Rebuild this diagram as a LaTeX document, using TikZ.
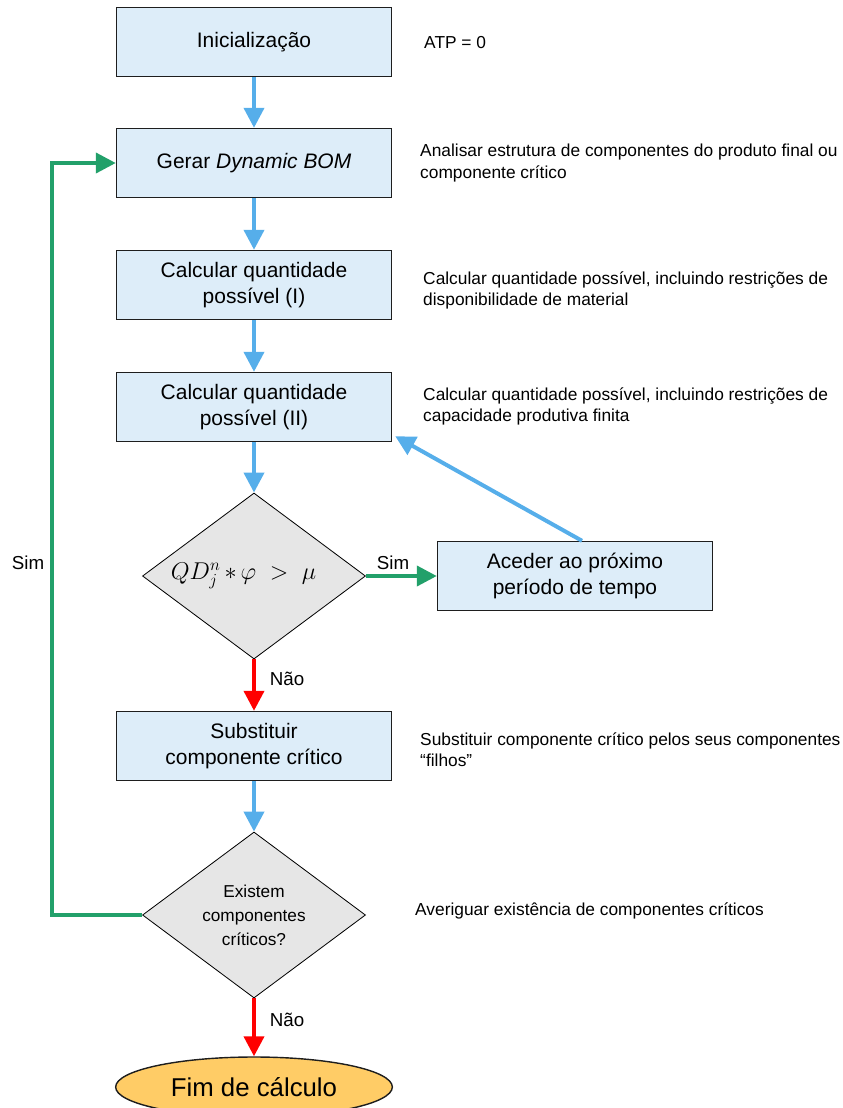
\documentclass[tikz,border=0pt]{standalone}
\usepackage{fontspec}
\setmainfont{Liberation Sans}
\usetikzlibrary{shapes.geometric, arrows.meta, calc}
\definecolor{boxblue}{RGB}{221,237,249}
\definecolor{boxline}{RGB}{30,30,30}
\definecolor{decgray}{RGB}{230,230,230}
\definecolor{endorange}{RGB}{255,204,102}
\definecolor{flowblue}{RGB}{86,174,234}
\definecolor{flowgreen}{RGB}{34,160,106}
\definecolor{flowred}{RGB}{255,0,0}
\begin{document}
\begin{tikzpicture}[x=0.03cm, y=-0.03cm,
    stepbox/.style={rectangle, draw=boxline, line width=1.2pt, fill=boxblue, minimum width=8.25cm, minimum height=2.07cm, inner sep=0pt, align=center, font=\fontsize{17.9}{21.5}\selectfont},
    decision/.style={diamond, draw=black, line width=0.7pt, fill=decgray, minimum width=6.69cm, minimum height=4.98cm, inner sep=0pt, align=center},
    terminal/.style={ellipse, draw=boxline, line width=1.2pt, fill=endorange, minimum width=8.3cm, minimum height=1.8cm, inner sep=0pt, font=\fontsize{22}{26}\selectfont},
    note/.style={anchor=west, align=left, inner sep=0pt, font=\fontsize{14.8}{18}\selectfont},
    lbl/.style={inner sep=0pt, font=\fontsize{16}{18}\selectfont},
    flow/.style={line width=3.4pt, -{Triangle[length=17pt,width=17pt]}}]

    \useasboundingbox (0,0) rectangle (843,1108);

    \node[stepbox] at (254, 42) (init) {Inicialização};
    \node[stepbox] at (254, 163) (gerar) {Gerar \textit{Dynamic BOM}};
    \node[stepbox] at (254, 285) (calc1) {Calcular quantidade\\possível (I)};
    \node[stepbox] at (254, 407) (calc2) {Calcular quantidade\\possível (II)};
    \node[decision] at (254, 576) (test1) {\fontsize{22}{26}\selectfont\makebox[0pt][c]{$QD_j^n\,{*}\,\varphi\;\;{>}\;\;\mu$\hspace*{18pt}}};
    \node[stepbox] at (575, 576) (aceder) {Aceder ao próximo\\período de tempo};
    \node[stepbox] at (254, 746) (subst) {Substituir\\componente crítico};
    \node[decision, font=\fontsize{14.7}{20.5}\selectfont] at (254, 915) (test2) {Existem\\componentes\\críticos?};
    \node[terminal] at (254, 1087) (fim) {Fim de cálculo};

    \node[note] at (424, 43) (n1) {ATP = 0};
    \node[note] at (420, 163) (n2) {Analisar estrutura de componentes do produto final ou\\componente crítico};
    \node[note] at (423, 290) (n3) {Calcular quantidade possível, incluindo restrições de\\disponibilidade de material};
    \node[note] at (423, 406) (n4) {Calcular quantidade possível, incluindo restrições de\\capacidade produtiva finita};
    \node[note] at (420, 750) (n5) {Substituir componente crítico pelos seus componentes\\“filhos”};
    \node[note] at (415, 911) (n6) {Averiguar existência de componentes críticos};

    \node[lbl] at (393, 563) (sim1) {Sim};
    \node[lbl] at (287, 679) (nao1) {Não};
    \node[lbl] at (28, 563) (sim2) {Sim};
    \node[lbl] at (287, 1020) (nao2) {Não};

    \draw[flow, flowblue] (init) -- (gerar);
    \draw[flow, flowblue] (gerar) -- (calc1);
    \draw[flow, flowblue] (calc1) -- (calc2);
    \draw[flow, flowblue] (calc2) -- (test1);
    \draw[flow, flowgreen] (test1) -- (aceder);
    \draw[flow, flowblue] ($(aceder.north)+(7,0)$) -- ($(calc2.south east)+(3,-6)$);
    \draw[flow, flowred] (test1) -- (subst);
    \draw[flow, flowblue] (subst) -- (test2);
    \draw[flow, flowred] (test2) -- (fim);
    \draw[flow, flowgreen] (test2.west) -- ++(-90,0) |- (gerar.west);
\end{tikzpicture}
\end{document}
